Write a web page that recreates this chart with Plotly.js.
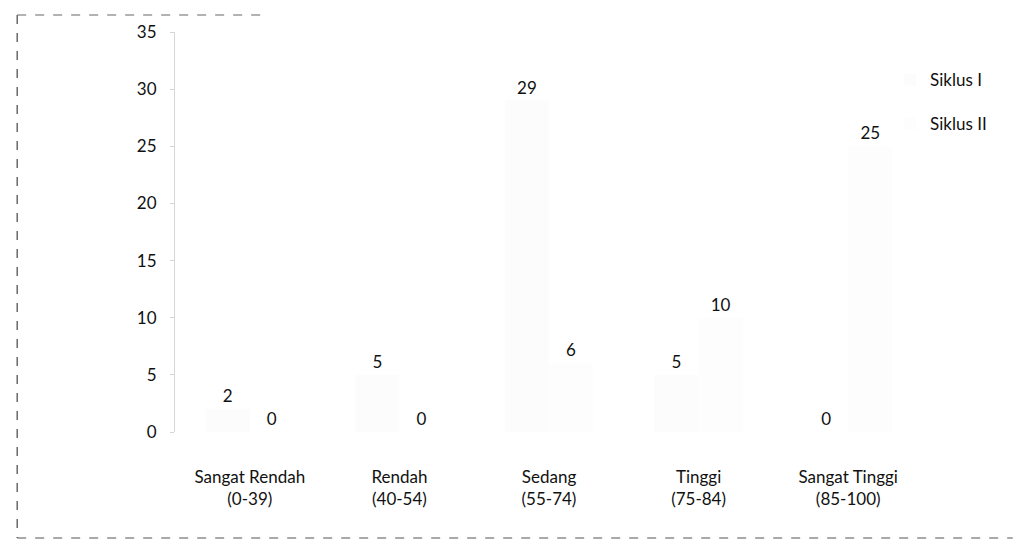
<!DOCTYPE html>
<html>
<head>
<meta charset="utf-8">
<script src="https://cdn.plot.ly/plotly-3.0.1.min.js"></script>
<style>html,body{margin:0;padding:0;background:#fff;}#chart{width:1013px;height:559px;}</style>
</head>
<body>
<div id="chart"></div>
<script>
const categories = ["Sangat Rendah<br>(0-39)", "Rendah<br>(40-54)", "Sedang<br>(55-74)", "Tinggi<br>(75-84)", "Sangat Tinggi<br>(85-100)"];
const siklus1 = [2, 5, 29, 5, 0];
const siklus2 = [0, 0, 6, 10, 25];
const seriesNames = ["Siklus I", "Siklus II"];
const yTicks = [0, 5, 10, 15, 20, 25, 30, 35];

const font = {family: "Lato, 'Open Sans', sans-serif", size: 17, color: "#111"};

const traces = [siklus1, siklus2].map((vals, i) => ({
  type: "bar",
  name: seriesNames[i],
  x: categories,
  y: vals,
  text: vals.map(String),
  textposition: "outside",
  cliponaxis: false,
  textfont: font,
  legendgroup: "g" + i,
  marker: {color: i === 0 ? "#fcfcfc" : "#fdfdfd", line: {width: 0}}
}));

const layout = {
  width: 1013, height: 559,
  margin: {l: 175, r: 90, t: 32, b: 127},
  paper_bgcolor: "#fff", plot_bgcolor: "#fff",
  font: font,
  barmode: "group",
  bargap: 0.41,
  bargroupgap: 0,
  showlegend: true,
  legend: {x: 0.956, y: 0.925, xanchor: "left", yanchor: "top", font: font,
           tracegroupgap: 19, traceorder: "grouped", bgcolor: "rgba(0,0,0,0)", itemwidth: 30},
  xaxis: {type: "category", showgrid: false, zeroline: false, showline: false,
          ticks: "", tickfont: font, ticklabelstandoff: 33},
  yaxis: {range: [0, 35], tickvals: yTicks, ticktext: yTicks.map(String), showgrid: false,
          zeroline: false, showline: true, linecolor: "#d5d5d5", linewidth: 1,
          ticks: "outside", ticklen: 4, tickcolor: "#d5d5d5", tickfont: font, ticklabelstandoff: 10},
  shapes: [
    {type: "line", xref: "paper", yref: "paper", x0: -0.211, x1: -0.211, y0: 1.0425, y1: -0.265,
     line: {color: "#444", width: 1.2, dash: "dash"}},
    {type: "line", xref: "paper", yref: "paper", x0: -0.211, x1: 0.12, y0: 1.0425, y1: 1.0425,
     line: {color: "#666", width: 1.2, dash: "dash"}},
    {type: "line", xref: "paper", yref: "paper", x0: -0.211, x1: 1.12, y0: -0.265, y1: -0.265,
     line: {color: "#555", width: 1.2, dash: "dash"}}
  ]
};

Plotly.newPlot("chart", traces, layout, {displayModeBar: false, staticPlot: true});
</script>
</body>
</html>
